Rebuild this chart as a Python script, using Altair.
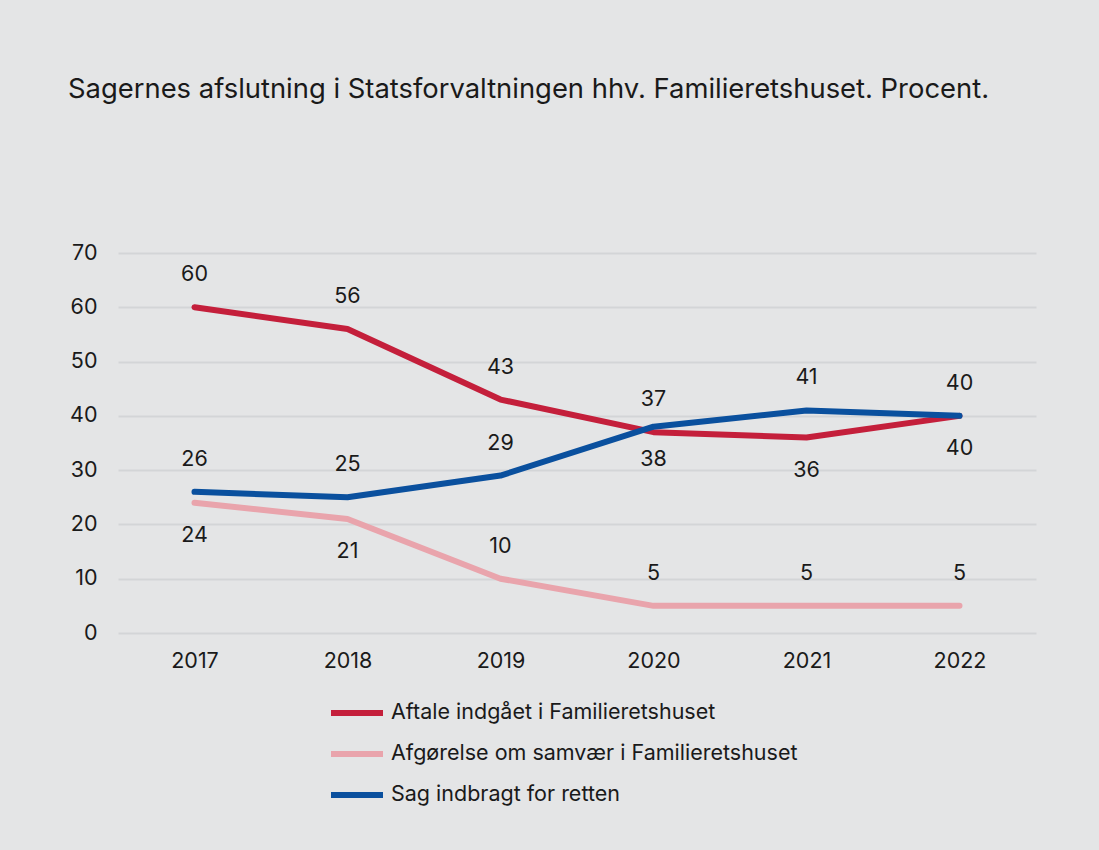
import altair as alt
import pandas as pd

years = ["2017", "2018", "2019", "2020", "2021", "2022"]
series_names = [
    "Aftale indgået i Familieretshuset",
    "Afgørelse om samvær i Familieretshuset",
    "Sag indbragt for retten",
]
aftale = [60, 56, 43, 37, 36, 40]
afgorelse = [24, 21, 10, 5, 5, 5]
sag = [26, 25, 29, 38, 41, 40]
# label placement relative to each point: "above" or "below"
aftale_pos = ["above", "above", "above", "above", "below", "above"]
afgorelse_pos = ["below", "below", "above", "above", "above", "above"]
sag_pos = ["above", "above", "above", "below", "above", "below"]
colors = ["#c41f3b", "#e9a4ac", "#0a509e"]

rows = []
for name, vals, poss in zip(series_names, [aftale, afgorelse, sag], [aftale_pos, afgorelse_pos, sag_pos]):
    for y, v, p in zip(years, vals, poss):
        rows.append({"year": y, "value": v, "series": name, "pos": p})
df = pd.DataFrame(rows)

FONT = "Inter"
BG = "#e4e5e6"
FS = 21.5

x = alt.X("year:O", sort=years, title=None,
          scale=alt.Scale(type="point", padding=0.5),
          axis=alt.Axis(labelAngle=0, ticks=False, domain=False, grid=False,
                        labelFontSize=FS, labelPadding=17, labelColor="#1a1a1a", labelFont=FONT))
y = alt.Y("value:Q", title=None, scale=alt.Scale(domain=[0, 70], nice=False),
          axis=alt.Axis(values=[0, 10, 20, 30, 40, 50, 60, 70], ticks=False, domain=False,
                        gridColor="#d3d5d7", gridWidth=2, labelFontSize=FS, labelPadding=21,
                        labelColor="#1a1a1a", labelFont=FONT))

color = alt.Color("series:N", sort=series_names,
                  scale=alt.Scale(domain=series_names, range=colors),
                  legend=alt.Legend(title=None, orient="none", legendX=210, legendY=431,
                                    direction="vertical", symbolType="stroke",
                                    symbolSize=2704, symbolStrokeWidth=6,
                                    labelFontSize=FS, labelFont=FONT, labelColor="#1a1a1a",
                                    labelOffset=5, rowPadding=0, padding=0, labelLimit=0))

lines = alt.Chart(df).mark_line(strokeWidth=6, strokeCap="round", strokeJoin="round").encode(
    x=x, y=y, color=color, detail="series:N")

above = alt.Chart(df).transform_filter(alt.datum.pos == "above").mark_text(
    dy=-32, fontSize=FS, font=FONT, color="#1a1a1a", baseline="middle").encode(
    x=alt.X("year:O", sort=years), y="value:Q", text="value:Q")
below = alt.Chart(df).transform_filter(alt.datum.pos == "below").mark_text(
    dy=33, fontSize=FS, font=FONT, color="#1a1a1a", baseline="middle").encode(
    x=alt.X("year:O", sort=years), y="value:Q", text="value:Q")

chart = alt.layer(lines, above, below).properties(
    width=918, height=380,
    title=alt.Title("Sagernes afslutning i Statsforvaltningen hhv. Familieretshuset. Procent.",
                    anchor="start", frame="group", dx=-50, offset=139,
                    fontSize=27.4, font=FONT, fontWeight="normal", color="#1a1a1a"),
    background=BG,
    padding={"left": 118, "top": 253, "right": 63, "bottom": 217},
    autosize=alt.AutoSizeParams(type="none"),
).configure_view(stroke=None)

chart.save("out.html", embed_options={"renderer": "svg", "actions": False})
